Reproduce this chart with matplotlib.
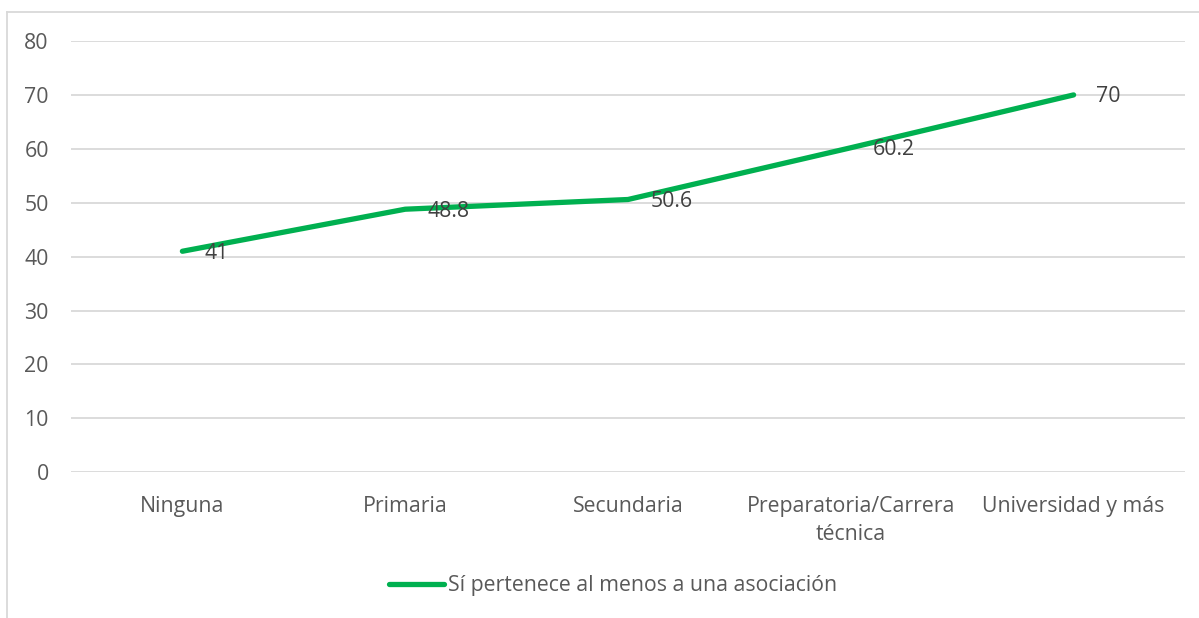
import matplotlib.pyplot as plt
from matplotlib.lines import Line2D

# data
categorias = ["Ninguna", "Primaria", "Secundaria",
              "Preparatoria/Carrera\ntécnica", "Universidad y más"]
valores = [41, 48.8, 50.6, 60.2, 70]
serie = "Sí pertenece al menos a una asociación"
y_ticks = [0, 10, 20, 30, 40, 50, 60, 70, 80]

plt.rcParams["font.family"] = ["Open Sans", "DejaVu Sans"]

W, H = 1199, 618
fig = plt.figure(figsize=(W / 100, H / 100), dpi=100)
ax = fig.add_axes([71 / W, 1 - 472.3 / H, (1185 - 71) / W, (472.3 - 41) / H])

x = range(len(categorias))
ax.plot(x, valores, color="#00b050", lw=3.8, solid_capstyle="round",
        solid_joinstyle="round", label=serie, zorder=3)

for xi, v in zip(x, valores):
    ax.annotate(f"{v:g}", (xi, v), xytext=(16, -1.5), textcoords="offset points",
                ha="left", va="center", fontsize=15.3, color="#404040", zorder=4)

ax.set_xlim(-0.5, len(categorias) - 0.5)
ax.set_ylim(0, 80)
ax.set_yticks(y_ticks)
ax.set_xticks(list(x))
ax.set_xticklabels(categorias, linespacing=1.45)
ax.tick_params(axis="both", length=0, labelsize=15.3, labelcolor="#595959")
ax.tick_params(axis="y", pad=16)
ax.tick_params(axis="x", pad=17)
ax.grid(axis="y", color="#d9d9d9", lw=1.3)
ax.set_axisbelow(True)
for s in ax.spines.values():
    s.set_visible(False)

leg = fig.legend(loc="center", bbox_to_anchor=(613 / W, 1 - 586 / H), frameon=False,
                 fontsize=15.3, handlelength=2.6, handletextpad=0.15)
for t in leg.get_texts():
    t.set_color("#595959")

# chart border (top and left visible)
fig.add_artist(Line2D([7 / W, 1], [1 - 11.5 / H, 1 - 11.5 / H], color="#d9d9d9", lw=1.3))
fig.add_artist(Line2D([7 / W, 7 / W], [0, 1 - 11.5 / H], color="#d9d9d9", lw=1.3))

fig.savefig("out.png", dpi=100)
